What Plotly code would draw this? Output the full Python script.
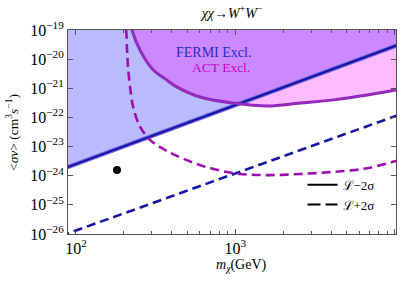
import plotly.graph_objects as go

# ---- data ----
fermi_m = [80, 12000]
fermi_sv_m2s = [1.6e-24, 4.0e-20]      # L - 2 sigma (solid)
fermi_sv_p2s = [8.5e-27, 1.55e-22]     # L + 2 sigma (dashed)

act_m_m2s = [219, 225, 253, 305, 363, 432, 603, 973, 1592, 2565, 4140, 6760, 10230, 12000]
act_sv_m2s = [2.5e-19, 1.0e-19, 2.0e-20, 4.3e-21, 2.1e-21, 1.1e-21, 5.0e-22, 3.1e-22,
              2.45e-22, 3.1e-22, 4.0e-22, 5.9e-22, 8.7e-22, 1.05e-21]

act_m_p2s = [199.5, 206.5, 209.4, 212.3, 218.8, 228.6, 253, 292, 338, 420, 603, 973,
             1592, 2565, 4140, 6760, 10230, 12000]
act_sv_p2s = [3e-19, 1e-19, 2.0e-20, 5.4e-21, 1.1e-21, 2.3e-22, 4.7e-23, 1.7e-23, 9.5e-24,
              5.1e-24, 2.3e-24, 1.23e-24, 1.05e-24, 1.15e-24, 1.35e-24, 1.8e-24, 3.2e-24, 4e-24]

point_m = [181]
point_sv = [1.58e-24]

x_ticks = [100, 1000, 10000]
x_ticktext = ["10<sup>2</sup>", "10<sup>3</sup>", "10<sup>4</sup>"]
x_minor = [m * d for m in (10, 100, 1000) for d in range(2, 10)]
y_exps = [-26, -25, -24, -23, -22, -21, -20, -19]
y_ticks = [10.0 ** e for e in y_exps]
y_ticktext = ["10<sup>−%d</sup>" % (-e) for e in y_exps]

TOP = 1e-18
SERIF = "Liberation Serif, Times New Roman, DejaVu Serif, serif"

fig = go.Figure()

# FERMI excluded region (above solid line)
fig.add_trace(go.Scatter(
    x=fermi_m + fermi_m[::-1], y=fermi_sv_m2s + [TOP, TOP],
    fill="toself", fillcolor="rgba(0,0,255,0.27)", line=dict(width=0),
    mode="lines", hoverinfo="skip", showlegend=False))

# ACT excluded region (above solid ACT curve)
fig.add_trace(go.Scatter(
    x=[act_m_m2s[0], act_m_m2s[-1]], y=[TOP, TOP], mode="lines",
    line=dict(width=0), hoverinfo="skip", showlegend=False))
fig.add_trace(go.Scatter(
    x=act_m_m2s, y=act_sv_m2s, mode="lines", line=dict(width=0, shape="spline"),
    fill="tonexty", fillcolor="rgba(255,0,255,0.265)",
    hoverinfo="skip", showlegend=False))

# FERMI lines
fig.add_trace(go.Scatter(x=fermi_m, y=fermi_sv_m2s, mode="lines",
                         line=dict(color="rgb(105,95,225)", width=4.2), showlegend=False))
fig.add_trace(go.Scatter(x=fermi_m, y=fermi_sv_m2s, mode="lines",
                         line=dict(color="rgb(20,20,160)", width=2), showlegend=False))
fig.add_trace(go.Scatter(x=fermi_m, y=fermi_sv_p2s, mode="lines",
                         line=dict(color="rgb(20,20,165)", width=2.6, dash="9px,5px"),
                         showlegend=False))

# ACT lines
fig.add_trace(go.Scatter(x=act_m_m2s, y=act_sv_m2s, mode="lines",
                         line=dict(color="rgb(125,45,185)", width=3.0, shape="spline"),
                         showlegend=False))
fig.add_trace(go.Scatter(x=act_m_m2s, y=act_sv_m2s, mode="lines",
                         line=dict(color="rgb(175,40,195)", width=1.1, shape="spline"),
                         showlegend=False))
fig.add_trace(go.Scatter(x=act_m_p2s, y=act_sv_p2s, mode="lines",
                         line=dict(color="rgb(155,15,178)", width=2.6, dash="9px,5px",
                                   shape="spline"),
                         showlegend=False))

# benchmark point
fig.add_trace(go.Scatter(x=point_m, y=point_sv, mode="markers",
                         marker=dict(color="black", size=8), showlegend=False))

# legend entries
fig.add_trace(go.Scatter(x=[None], y=[None], mode="lines", name="ℒ−2σ",
                         line=dict(color="black", width=2)))
fig.add_trace(go.Scatter(x=[None], y=[None], mode="lines", name="ℒ+2σ",
                         line=dict(color="black", width=2, dash="13px,5px")))

axis_common = dict(showgrid=False, zeroline=False, showline=True, linecolor="#555",
                   linewidth=1, mirror="allticks", ticks="inside", tickcolor="#555",
                   automargin=False,
                   tickfont=dict(family=SERIF, size=16, color="black"))

fig.update_xaxes(type="log", range=[1.95, 4.01], tickvals=x_ticks, ticktext=x_ticktext,
                 ticklen=5,
                 minor=dict(tickvals=x_minor, ticks="inside", ticklen=3, tickcolor="#555"),
                 **axis_common)
fig.update_yaxes(type="log", range=[-26, -19], tickvals=y_ticks, ticktext=y_ticktext,
                 ticklen=5, **axis_common)

fig.update_layout(
    width=403, height=286,
    margin=dict(l=68, r=7, t=30, b=52, autoexpand=False),
    plot_bgcolor="white", paper_bgcolor="white",
    font=dict(family=SERIF, color="black"),
    title=dict(text="<i>χχ</i>→<i>W</i><sup>+</sup><i>W</i><sup>−</sup>",
               x=0.5, xref="paper", xanchor="center", y=0.955, yref="container",
               yanchor="middle",
               font=dict(family=SERIF, size=14, color="black")),
    legend=dict(x=0.715, y=0.315, xanchor="left", yanchor="top",
                bgcolor="rgba(0,0,0,0)", borderwidth=0, traceorder="normal",
                font=dict(family=SERIF, size=13, color="black"),
                tracegroupgap=0, itemwidth=30),
    annotations=[
        dict(text="FERMI Excl.", x=2.862, y=-19.76, xref="x", yref="y", showarrow=False,
             font=dict(family=SERIF, size=14, color="rgb(40,40,200)")),
        dict(text="ACT Excl.", x=2.912, y=-20.30, xref="x", yref="y", showarrow=False,
             font=dict(family=SERIF, size=13.5, color="rgb(200,0,200)")),
        dict(text="<i>m</i><sub><i>χ</i></sub>(GeV)", x=0.53, y=-0.152, xref="paper",
             yref="paper", showarrow=False, xanchor="center", yanchor="middle",
             font=dict(family=SERIF, size=14, color="black")),
        dict(text="&lt;<i>σv</i>&gt; (cm<sup>3</sup><i>s</i><sup>−1</sup>)", x=-0.171, y=0.5,
             xref="paper", yref="paper", showarrow=False, textangle=-90,
             xanchor="center", yanchor="middle",
             font=dict(family=SERIF, size=13.5, color="black")),
    ],
)

fig.write_html("out.html", config={"displayModeBar": False},
               post_script="document.body.style.margin='0px';")
